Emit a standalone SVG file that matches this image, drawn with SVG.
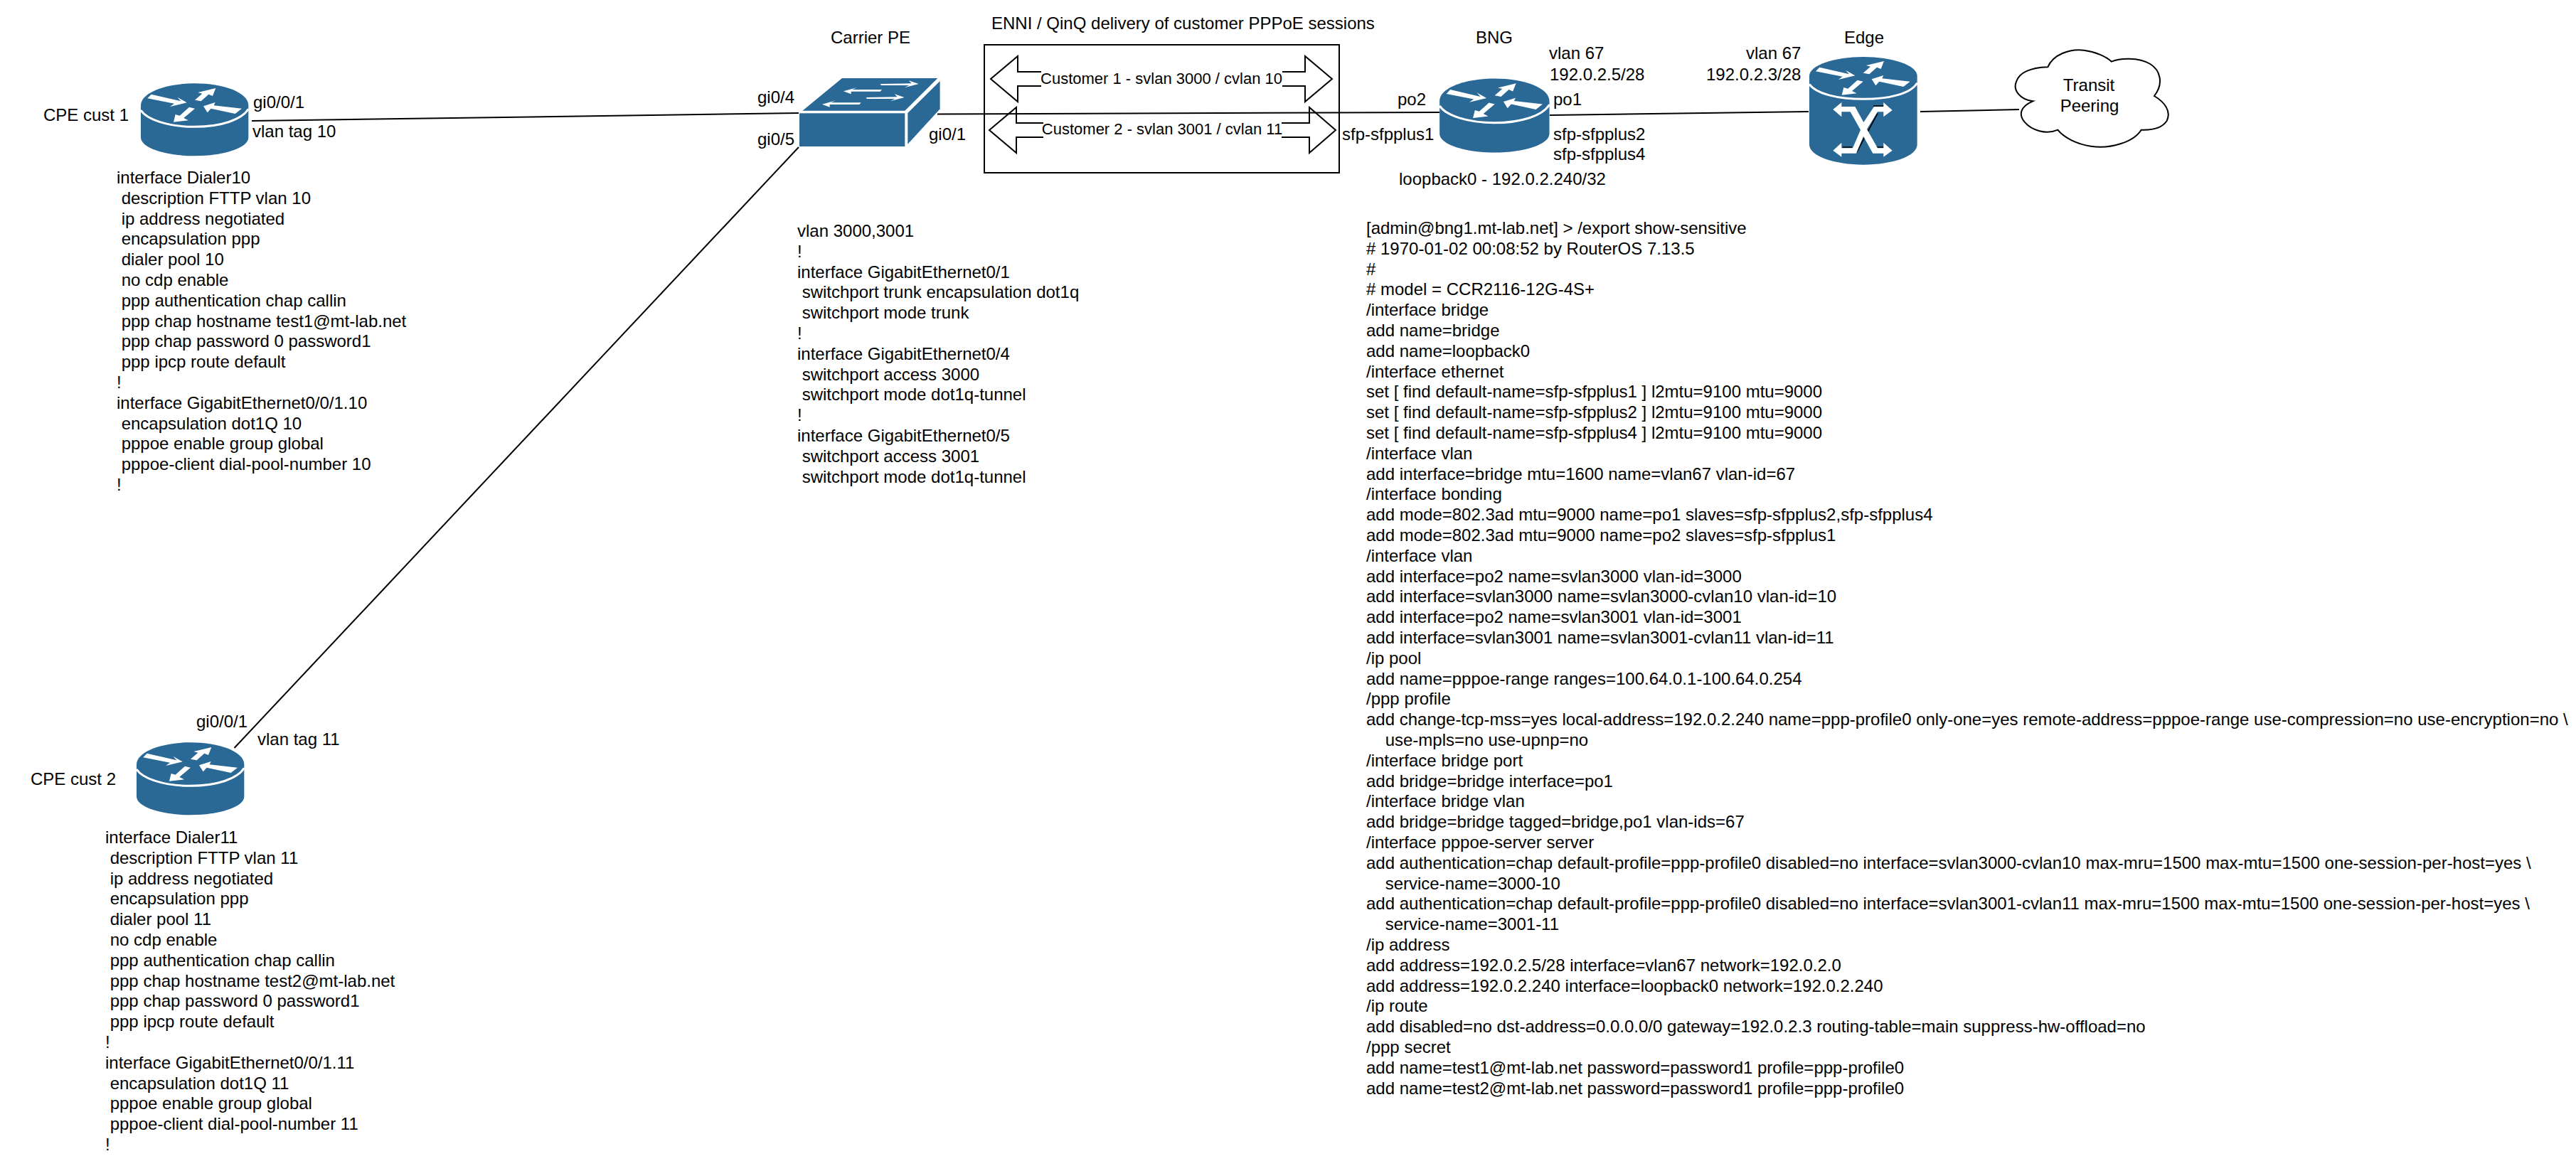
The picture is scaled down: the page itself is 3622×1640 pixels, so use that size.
<svg xmlns="http://www.w3.org/2000/svg" width="3622" height="1640" viewBox="0 0 3622 1640">
<style>
text{font-family:"Liberation Sans",Arial,sans-serif;font-size:24px;fill:#000;white-space:pre}
.m{text-anchor:middle}
.c{font-size:22px}
.blue{fill:#2a6896}
.w{fill:#fff}
.band{fill:none;stroke:#fff;stroke-width:9}
.ln{fill:none;stroke:#000;stroke-width:2}
.conn line{stroke:#000;stroke-width:2}
</style>
<defs>
<g id="rarrows" class="w">
<polygon points="68,68 193,97 178,80 218,103 147,120 165,107 52,85"/>
<polygon points="252,92 283,65 265,60 340,42 327,75 310,68 278,97"/>
<polygon points="288,118 338,102 332,115 450,128 422,150 320,128 305,145"/>
<polygon points="162,185 170,153 188,158 228,122 252,128 205,168 225,178"/>
</g>
<g id="router">
<path class="blue" d="M24,115L24,250C24,295 130,328 251,328C372,328 478,295 478,250L478,115C478,60 372,22 251,22C130,22 24,60 24,115Z"/>
<path class="band" d="M24,135C50,175 140,205 251,205C362,205 450,175 478,130"/>
<use href="#rarrows"/>
</g>
</defs>
<rect width="3622" height="1640" fill="#fff"/>
<g id="connectors" class="conn">
<line x1="354" y1="170" x2="1123" y2="159"/>
<line x1="1318" y1="160.5" x2="2024" y2="158"/>
<line x1="2179" y1="162" x2="2543" y2="157"/>
<line x1="2700" y1="157" x2="2839" y2="154"/>
<line x1="329.5" y1="1052" x2="1123" y2="207"/>
</g>
<g id="cpe1">
<use href="#router" transform="translate(190,110) scale(.3333)"/>
<text x="61" y="170">CPE cust 1</text>
<text x="356" y="152">gi0/0/1</text>
<text x="355" y="193">vlan tag 10</text>
<text y="258"><tspan x="164">interface Dialer10</tspan><tspan x="164" dy="28.8"> description FTTP vlan 10</tspan><tspan x="164" dy="28.8"> ip address negotiated</tspan><tspan x="164" dy="28.8"> encapsulation ppp</tspan><tspan x="164" dy="28.8"> dialer pool 10</tspan><tspan x="164" dy="28.8"> no cdp enable</tspan><tspan x="164" dy="28.8"> ppp authentication chap callin</tspan><tspan x="164" dy="28.8"> ppp chap hostname test1@mt-lab.net</tspan><tspan x="164" dy="28.8"> ppp chap password 0 password1</tspan><tspan x="164" dy="28.8"> ppp ipcp route default</tspan><tspan x="164" dy="28.8">!</tspan><tspan x="164" dy="28.8">interface GigabitEthernet0/0/1.10</tspan><tspan x="164" dy="28.8"> encapsulation dot1Q 10</tspan><tspan x="164" dy="28.8"> pppoe enable group global</tspan><tspan x="164" dy="28.8"> pppoe-client dial-pool-number 10</tspan><tspan x="164" dy="28.8">!</tspan></text>
</g>
<g id="cpe2">
<use href="#router" transform="translate(184,1037) scale(.3333)"/>
<text x="43" y="1104">CPE cust 2</text>
<text x="276" y="1023">gi0/0/1</text>
<text x="362" y="1048">vlan tag 11</text>
<text y="1186"><tspan x="148">interface Dialer11</tspan><tspan x="148" dy="28.8"> description FTTP vlan 11</tspan><tspan x="148" dy="28.8"> ip address negotiated</tspan><tspan x="148" dy="28.8"> encapsulation ppp</tspan><tspan x="148" dy="28.8"> dialer pool 11</tspan><tspan x="148" dy="28.8"> no cdp enable</tspan><tspan x="148" dy="28.8"> ppp authentication chap callin</tspan><tspan x="148" dy="28.8"> ppp chap hostname test2@mt-lab.net</tspan><tspan x="148" dy="28.8"> ppp chap password 0 password1</tspan><tspan x="148" dy="28.8"> ppp ipcp route default</tspan><tspan x="148" dy="28.8">!</tspan><tspan x="148" dy="28.8">interface GigabitEthernet0/0/1.11</tspan><tspan x="148" dy="28.8"> encapsulation dot1Q 11</tspan><tspan x="148" dy="28.8"> pppoe enable group global</tspan><tspan x="148" dy="28.8"> pppoe-client dial-pool-number 11</tspan><tspan x="148" dy="28.8">!</tspan></text>
</g>
<g id="carrier-pe">
<g transform="translate(1115,90) scale(.3333)">
<rect class="blue" x="27" y="208" width="445" height="140"/>
<polygon class="blue" points="40,197 207,60 610,60 472,197"/>
<polygon class="blue" points="484,207 620,72 620,190 484,338"/>
<g class="w">
<polygon points="368,84 500,82 488,70 530,84 470,100 490,90 372,90"/>
<polygon points="308,141 440,139 428,127 470,141 410,157 430,147 312,147"/>
<polygon points="213,115 270,99 250,108 375,108 368,116 245,116 245,127"/>
<polygon points="123,170 180,154 160,163 287,163 280,171 155,171 155,182"/>
</g>
</g>
<text x="1168" y="61">Carrier PE</text>
<text x="1065" y="145">gi0/4</text>
<text x="1065" y="204">gi0/5</text>
<text x="1306" y="197">gi0/1</text>
<text y="333"><tspan x="1121">vlan 3000,3001</tspan><tspan x="1121" dy="28.8">!</tspan><tspan x="1121" dy="28.8">interface GigabitEthernet0/1</tspan><tspan x="1121" dy="28.8"> switchport trunk encapsulation dot1q</tspan><tspan x="1121" dy="28.8"> switchport mode trunk</tspan><tspan x="1121" dy="28.8">!</tspan><tspan x="1121" dy="28.8">interface GigabitEthernet0/4</tspan><tspan x="1121" dy="28.8"> switchport access 3000</tspan><tspan x="1121" dy="28.8"> switchport mode dot1q-tunnel</tspan><tspan x="1121" dy="28.8">!</tspan><tspan x="1121" dy="28.8">interface GigabitEthernet0/5</tspan><tspan x="1121" dy="28.8"> switchport access 3001</tspan><tspan x="1121" dy="28.8"> switchport mode dot1q-tunnel</tspan></text>
</g>
<g id="enni">
<text x="1394" y="41">ENNI / QinQ delivery of customer PPPoE sessions</text>
<rect class="ln" x="1384" y="63" width="499" height="180"/>
<g id="cust1">
<polyline class="ln" points="1464,101 1431,101 1431,79 1393,111 1431,143 1431,121 1464,121"/>
<polyline class="ln" points="1803,101 1835,101 1835,79 1873,111 1835,143 1835,121 1803,121"/>
<text class="m c" x="1633" y="118">Customer 1 - svlan 3000 / cvlan 10</text>
</g>
<g id="cust2">
<polyline class="ln" points="1467,173 1429,173 1429,151 1391,183 1429,215 1429,193 1467,193"/>
<polyline class="ln" points="1802,173 1841,173 1841,151 1878,183 1841,215 1841,193 1802,193"/>
<text class="m c" x="1634" y="189">Customer 2 - svlan 3001 / cvlan 11</text>
</g>
</g>
<g id="bng">
<use href="#router" transform="translate(2016,103) scale(.34)"/>
<text x="2075" y="61">BNG</text>
<text x="2178" y="83">vlan 67</text>
<text x="2179" y="113">192.0.2.5/28</text>
<text x="2184" y="148">po1</text>
<text x="1965" y="148">po2</text>
<text x="1887" y="197">sfp-sfpplus1</text>
<text x="2184" y="197">sfp-sfpplus2</text>
<text x="2184" y="225">sfp-sfpplus4</text>
<text x="1967" y="260">loopback0 - 192.0.2.240/32</text>
<text y="329"><tspan x="1921">[admin@bng1.mt-lab.net] &gt; /export show-sensitive</tspan><tspan x="1921" dy="28.8"># 1970-01-02 00:08:52 by RouterOS 7.13.5</tspan><tspan x="1921" dy="28.8">#</tspan><tspan x="1921" dy="28.8"># model = CCR2116-12G-4S+</tspan><tspan x="1921" dy="28.8">/interface bridge</tspan><tspan x="1921" dy="28.8">add name=bridge</tspan><tspan x="1921" dy="28.8">add name=loopback0</tspan><tspan x="1921" dy="28.8">/interface ethernet</tspan><tspan x="1921" dy="28.8">set [ find default-name=sfp-sfpplus1 ] l2mtu=9100 mtu=9000</tspan><tspan x="1921" dy="28.8">set [ find default-name=sfp-sfpplus2 ] l2mtu=9100 mtu=9000</tspan><tspan x="1921" dy="28.8">set [ find default-name=sfp-sfpplus4 ] l2mtu=9100 mtu=9000</tspan><tspan x="1921" dy="28.8">/interface vlan</tspan><tspan x="1921" dy="28.8">add interface=bridge mtu=1600 name=vlan67 vlan-id=67</tspan><tspan x="1921" dy="28.8">/interface bonding</tspan><tspan x="1921" dy="28.8">add mode=802.3ad mtu=9000 name=po1 slaves=sfp-sfpplus2,sfp-sfpplus4</tspan><tspan x="1921" dy="28.8">add mode=802.3ad mtu=9000 name=po2 slaves=sfp-sfpplus1</tspan><tspan x="1921" dy="28.8">/interface vlan</tspan><tspan x="1921" dy="28.8">add interface=po2 name=svlan3000 vlan-id=3000</tspan><tspan x="1921" dy="28.8">add interface=svlan3000 name=svlan3000-cvlan10 vlan-id=10</tspan><tspan x="1921" dy="28.8">add interface=po2 name=svlan3001 vlan-id=3001</tspan><tspan x="1921" dy="28.8">add interface=svlan3001 name=svlan3001-cvlan11 vlan-id=11</tspan><tspan x="1921" dy="28.8">/ip pool</tspan><tspan x="1921" dy="28.8">add name=pppoe-range ranges=100.64.0.1-100.64.0.254</tspan><tspan x="1921" dy="28.8">/ppp profile</tspan><tspan x="1921" dy="28.8">add change-tcp-mss=yes local-address=192.0.2.240 name=ppp-profile0 only-one=yes remote-address=pppoe-range use-compression=no use-encryption=no \</tspan><tspan x="1921" dy="28.8">    use-mpls=no use-upnp=no</tspan><tspan x="1921" dy="28.8">/interface bridge port</tspan><tspan x="1921" dy="28.8">add bridge=bridge interface=po1</tspan><tspan x="1921" dy="28.8">/interface bridge vlan</tspan><tspan x="1921" dy="28.8">add bridge=bridge tagged=bridge,po1 vlan-ids=67</tspan><tspan x="1921" dy="28.8">/interface pppoe-server server</tspan><tspan x="1921" dy="28.8">add authentication=chap default-profile=ppp-profile0 disabled=no interface=svlan3000-cvlan10 max-mru=1500 max-mtu=1500 one-session-per-host=yes \</tspan><tspan x="1921" dy="28.8">    service-name=3000-10</tspan><tspan x="1921" dy="28.8">add authentication=chap default-profile=ppp-profile0 disabled=no interface=svlan3001-cvlan11 max-mru=1500 max-mtu=1500 one-session-per-host=yes \</tspan><tspan x="1921" dy="28.8">    service-name=3001-11</tspan><tspan x="1921" dy="28.8">/ip address</tspan><tspan x="1921" dy="28.8">add address=192.0.2.5/28 interface=vlan67 network=192.0.2.0</tspan><tspan x="1921" dy="28.8">add address=192.0.2.240 interface=loopback0 network=192.0.2.240</tspan><tspan x="1921" dy="28.8">/ip route</tspan><tspan x="1921" dy="28.8">add disabled=no dst-address=0.0.0.0/0 gateway=192.0.2.3 routing-table=main suppress-hw-offload=no</tspan><tspan x="1921" dy="28.8">/ppp secret</tspan><tspan x="1921" dy="28.8">add name=test1@mt-lab.net password=password1 profile=ppp-profile0</tspan><tspan x="1921" dy="28.8">add name=test2@mt-lab.net password=password1 profile=ppp-profile0</tspan></text>
</g>
<g id="edge">
<g transform="translate(2530,70) scale(.3333)">
<path class="blue" d="M42,110L42,400C42,450 150,485 270,485C390,485 497,450 497,400L497,110C497,65 390,30 270,30C150,30 42,65 42,110Z"/>
<path class="band" d="M42,145C70,185 160,208 270,208C380,208 470,185 497,140"/>
<use href="#rarrows" transform="translate(17,6)"/>
<path fill="none" stroke="#000" stroke-width="5" d="M312,237L355,237M330,268L242,432M182,411L222,411M325,411L355,411"/>
<path class="w" d="M142,252L178,222L178,240L235,240L271,306L315,240L355,240L355,222L392,255L355,283L355,262L330,262L285,335L330,415L355,415L355,392L392,425L355,452L355,437L310,437L270,365L240,437L178,437L178,452L142,425L178,392L178,415L225,415L258,338L215,262L178,262L178,283Z"/>
</g>
<text x="2593" y="61">Edge</text>
<text x="2455" y="83">vlan 67</text>
<text x="2399" y="113">192.0.2.3/28</text>
</g>
<g id="transit">
<path transform="translate(2820,60) scale(.3333)" fill="#fff" stroke="#000" stroke-width="6" d="M178,103C200,50 270,25 330,32C380,38 425,60 447,80C480,65 560,60 610,90C650,115 670,170 627,225C670,250 700,290 680,330C660,360 620,370 572,368C540,420 440,450 360,437C300,428 245,400 220,368C170,390 110,370 80,335C55,305 60,270 115,247C60,240 30,200 45,165C60,120 120,105 178,103Z"/>
<text class="m" x="2937" y="128">Transit</text>
<text class="m" x="2938" y="157">Peering</text>
</g>
</svg>
